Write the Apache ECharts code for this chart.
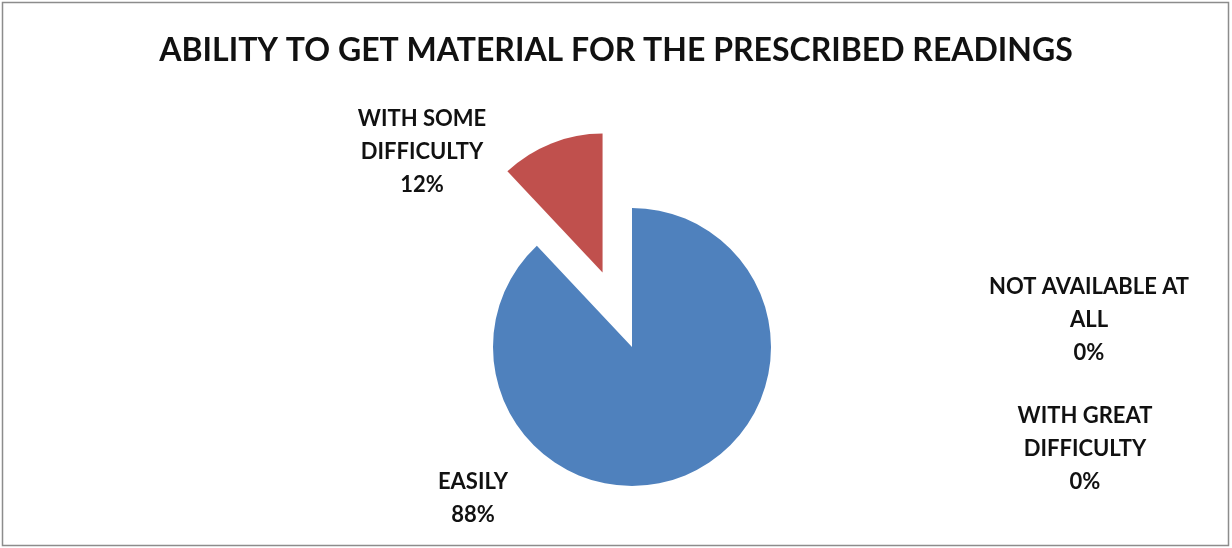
<!DOCTYPE html>
<html>
<head>
<meta charset="utf-8">
<script src="https://cdn.jsdelivr.net/npm/echarts@6/dist/echarts.min.js"></script>
<style>
  html, body { margin: 0; padding: 0; background: #fff; }
  #chart { width: 1232px; height: 548px; }
</style>
</head>
<body>
<div id="chart"></div>
<script>
const titleText = 'ABILITY TO GET MATERIAL FOR THE PRESCRIBED READINGS';
const categories = ['EASILY', 'WITH SOME\nDIFFICULTY', 'WITH GREAT\nDIFFICULTY', 'NOT AVAILABLE AT\nALL'];
const values = [88, 12, 0, 0];
const colors = ['#4F81BD', '#C0504D', '#9BBB59', '#8064A2'];

// label anchor points (centres) in pixels
const labelPos = [[473, 498], [422, 152], [1085, 449], [1089, 320]];

const FONT = 'Lato';
const total = values.reduce((a, b) => a + b, 0);

const chart = echarts.init(document.getElementById('chart'), null, { renderer: 'canvas' });

const labelGraphics = categories.map((c, i) => ({
  type: 'text',
  x: labelPos[i][0],
  y: labelPos[i][1],
  silent: true,
  style: {
    text: c + '\n' + Math.round(values[i] / total * 100) + '%',
    fontFamily: FONT,
    fontWeight: 'bold',
    fontSize: 22,
    lineHeight: 33,
    fill: '#111',
    align: 'center',
    verticalAlign: 'middle'
  }
}));

chart.setOption({
  animation: false,
  backgroundColor: '#fff',
  title: {
    text: titleText,
    left: 'center',
    top: 30,
    textStyle: { fontFamily: FONT, fontWeight: 'bold', fontSize: 32, color: '#111' }
  },
  graphic: [{
    type: 'rect',
    shape: { x: 2.5, y: 2.5, width: 1226, height: 543 },
    style: { fill: 'none', stroke: '#8c8c8c', lineWidth: 1.5 },
    silent: true
  }].concat(labelGraphics),
  series: [{
    type: 'pie',
    center: [632, 347],
    radius: 139,
    startAngle: 90,
    clockwise: true,
    selectedMode: 'single',
    selectedOffset: 80,
    emphasis: { disabled: true },
    data: categories.map((c, i) => ({
      name: c,
      value: values[i],
      selected: i === 1,
      itemStyle: { color: colors[i] }
    })),
    label: { show: false },
    labelLine: { show: false }
  }]
});
</script>
</body>
</html>
